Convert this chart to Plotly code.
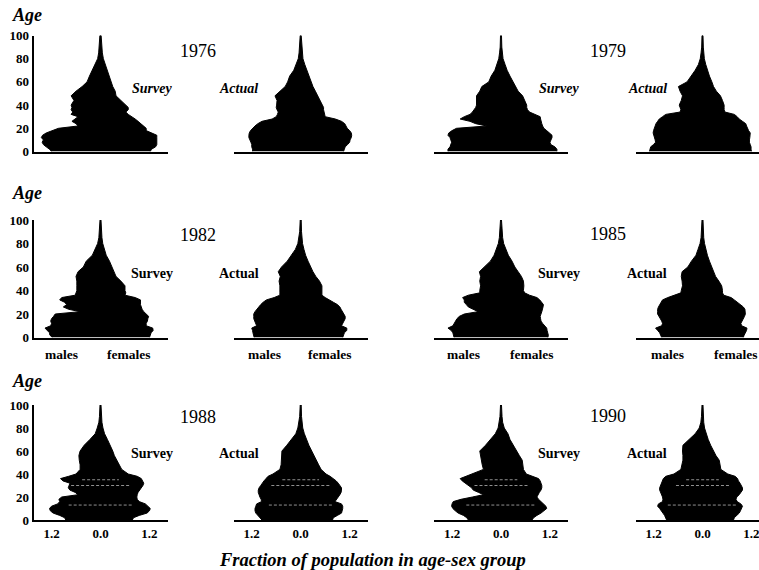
import plotly.graph_objects as go

AGES = [0,2,4,6,8,10,12,14,16,18,20,22,24,26,28,30,32,34,36,38,40,44,48,52,56,60,65,70,75,80,85,90,100]

YEARS = [1976, 1979, 1982, 1985, 1988, 1990]

S76_M = [1.20,1.25,1.33,1.40,1.43,1.40,1.45,1.42,1.33,1.20,1.03,.55,.60,.70,.62,.55,.72,.68,.72,.70,.72,.65,.72,.60,.45,.33,.27,.20,.13,.07,.045,.03,.015]
S76_F = [1.22,1.25,1.35,1.38,1.38,1.38,1.38,1.38,1.25,1.12,1.12,1.05,.98,.92,.85,.78,.68,.62,.68,.68,.62,.50,.38,.36,.30,.27,.22,.17,.12,.07,.045,.03,.015]
A76_M = [1.18,1.18,1.20,1.20,1.22,1.25,1.27,1.27,1.26,1.23,1.18,1.12,1.05,.95,.70,.60,.57,.55,.58,.60,.59,.58,.63,.50,.38,.32,.27,.17,.11,.06,.04,.025,.012]
A76_F = [1.05,1.07,1.09,1.15,1.20,1.21,1.24,1.25,1.24,1.20,1.14,1.11,1.08,1.00,.85,.60,.58,.57,.56,.56,.55,.47,.42,.36,.30,.26,.21,.15,.10,.055,.035,.025,.012]

S79_M = [1.30,1.30,1.25,1.22,1.21,1.23,1.25,1.30,1.28,1.20,1.09,.35,.62,.76,1.00,.90,.76,.70,.65,.62,.60,.60,.60,.52,.47,.30,.24,.15,.10,.055,.035,.02,.012]
S79_F = [1.37,1.37,1.32,1.22,1.20,1.22,1.25,1.25,1.20,1.12,1.05,1.02,1.00,.98,.97,.96,.85,.70,.65,.63,.63,.58,.53,.42,.36,.30,.22,.15,.10,.05,.03,.02,.012]
A79_M = [1.30,1.28,1.27,1.20,1.15,1.16,1.18,1.20,1.21,1.20,1.18,1.16,1.14,1.10,1.06,.98,.90,.55,.53,.55,.57,.52,.49,.55,.59,.38,.27,.18,.10,.055,.035,.02,.012]
A79_F = [1.20,1.19,1.19,1.17,1.15,1.15,1.16,1.17,1.17,1.13,1.10,1.08,1.06,.98,.90,.85,.78,.55,.53,.53,.53,.49,.44,.34,.27,.23,.17,.12,.08,.045,.03,.02,.012]

S82_M = [1.18,1.24,1.25,1.30,1.36,1.22,1.20,1.22,1.20,1.15,1.11,.50,.78,.91,.83,.88,1.00,.95,.62,.60,.58,.58,.58,.60,.55,.42,.35,.20,.13,.07,.04,.025,.012]
S82_F = [1.20,1.22,1.24,1.29,1.28,1.12,1.12,1.15,1.16,1.18,1.12,1.06,1.02,1.00,.98,.98,.98,.85,.60,.62,.60,.60,.50,.38,.33,.28,.22,.14,.09,.055,.035,.022,.012]
A82_M = [1.14,1.16,1.17,1.18,1.20,1.08,1.10,1.13,1.15,1.15,1.15,1.12,1.08,1.04,.98,.92,.84,.65,.51,.51,.51,.51,.53,.50,.55,.47,.33,.22,.13,.07,.04,.025,.012]
A82_F = [1.03,1.05,1.07,1.13,1.13,1.00,1.03,1.06,1.09,1.09,1.07,1.03,.99,.96,.90,.80,.72,.60,.52,.52,.52,.52,.46,.37,.30,.24,.18,.12,.08,.045,.03,.02,.012]

S85_M = [1.15,1.17,1.18,1.22,1.30,1.18,1.15,1.13,1.08,1.02,.90,.56,.68,.80,.85,.90,.90,.94,.80,.52,.52,.50,.52,.50,.53,.40,.26,.17,.12,.065,.04,.025,.012]
S85_F = [1.15,1.16,1.15,1.13,1.12,1.08,1.02,.98,.97,.96,.98,1.00,1.02,1.03,1.04,1.00,.95,.88,.70,.58,.55,.56,.55,.50,.42,.34,.27,.18,.12,.065,.04,.025,.012]
A85_M = [1.00,1.02,1.05,1.10,1.15,1.00,.98,1.00,1.04,1.08,1.10,1.10,1.10,1.08,1.05,1.00,.98,.85,.70,.53,.52,.49,.50,.52,.50,.36,.27,.16,.11,.06,.035,.025,.012]
A85_F = [1.00,1.02,1.04,1.08,1.09,.96,.94,.96,1.00,1.03,1.05,1.05,1.04,1.00,.92,.85,.78,.70,.52,.49,.49,.47,.40,.32,.27,.23,.17,.12,.08,.05,.03,.02,.012]

S88_M = [.85,.88,1.00,1.16,1.23,1.25,1.20,1.05,1.00,1.02,.95,.55,.62,.75,.79,.77,.75,.92,.98,.78,.60,.50,.50,.52,.53,.50,.40,.26,.13,.08,.04,.025,.012]
S88_F = [.78,.81,.95,1.14,1.20,1.22,1.16,1.10,.95,.90,.89,.90,.92,.94,1.00,1.04,1.06,1.04,1.00,.90,.68,.52,.46,.40,.34,.30,.24,.17,.10,.06,.035,.022,.012]
A88_M = [.95,1.00,1.05,1.10,1.12,1.12,1.10,1.08,.96,.97,1.00,1.03,1.04,1.04,1.02,.98,.95,.90,.85,.80,.68,.51,.48,.47,.47,.46,.34,.23,.12,.07,.04,.025,.012]
A88_F = [.78,.80,.90,1.00,1.02,1.03,1.03,1.00,.84,.87,.92,.96,.99,1.00,1.00,.97,.92,.87,.80,.72,.62,.50,.44,.38,.32,.27,.20,.14,.09,.05,.03,.02,.012]

S90_M = [.80,.84,.92,1.05,1.12,1.18,1.21,1.20,1.17,.98,.70,.43,.55,.68,.72,.80,.88,.95,1.00,.85,.70,.43,.46,.48,.50,.52,.38,.26,.14,.07,.04,.025,.012]
S90_F = [.76,.80,.88,.98,1.06,1.12,1.10,1.05,.98,.92,.88,.90,.94,.98,1.00,1.00,.98,.96,.92,.80,.62,.55,.53,.52,.45,.37,.30,.22,.17,.08,.04,.025,.012]
A90_M = [.88,.90,.93,.97,1.00,1.05,1.10,1.08,.98,.97,.98,1.00,1.03,1.05,1.05,1.03,1.00,.98,.96,.90,.70,.53,.50,.48,.48,.49,.48,.32,.18,.08,.04,.025,.012]
A90_F = [.76,.78,.84,.90,.93,.96,.98,.94,.85,.82,.84,.90,.95,.98,.98,.96,.92,.88,.86,.80,.62,.45,.43,.41,.33,.27,.20,.14,.09,.05,.03,.02,.012]

Y_TICKS = [0, 20, 40, 60, 80, 100]
X_TICKS = [-1.2, 0, 1.2]
X_TICK_LABELS = ["1.2", "0.0", "1.2"]

PANELS = [
    [(S76_M, S76_F), (A76_M, A76_F), (S79_M, S79_F), (A79_M, A79_F)],
    [(S82_M, S82_F), (A82_M, A82_F), (S85_M, S85_F), (A85_M, A85_F)],
    [(S88_M, S88_F), (A88_M, A88_F), (S90_M, S90_F), (A90_M, A90_F)],
]

# Ages of the pale scan streaks across the two bottom-row pairs: (age, half-length)
STREAKS_88 = [(13, .78), (30, .72), (35, .45)]
STREAKS_90 = [(13, .85), (30, .65), (35, .4)]

W, H = 759, 570
SERIF = "Liberation Serif"
CENTRES = [100.5, 300.7, 501, 702.5]
ROWS = [(35.5, 151.5), (220, 337.5), (405, 520)]   # top / zero-age pixel rows
PX_PER_UNIT = 40.8
REACH = 67  # axis half-length, pixels

fig = go.Figure()
layout = {}
n = 0
for r, row in enumerate(PANELS):
    top, base = ROWS[r]
    for c, (males, females) in enumerate(row):
        assert len(males) == len(AGES) and len(females) == len(AGES)
        n += 1
        xa, ya = f"x{n}", f"y{n}"
        fig.add_trace(go.Scatter(
            x=[-v for v in males] + females[::-1], y=AGES + AGES[::-1], xaxis=xa, yaxis=ya,
            mode="lines", fill="toself", fillcolor="black",
            line=dict(color="black", width=1), showlegend=False, hoverinfo="skip"))
        if r == 2:
            for age, half in (STREAKS_88 if c < 2 else STREAKS_90):
                fig.add_trace(go.Scatter(
                    x=[-half, half], y=[age, age], xaxis=xa, yaxis=ya, mode="lines",
                    line=dict(color="#cfcfcf", width=0.7, dash="3px,2px"),
                    showlegend=False, hoverinfo="skip"))
        left = CENTRES[c] - REACH
        right = min(CENTRES[c] + REACH, W)
        layout[f"xaxis{n}"] = dict(
            domain=[left / W, right / W], anchor=ya, automargin=False,
            range=[(left - CENTRES[c]) / PX_PER_UNIT, (right - CENTRES[c]) / PX_PER_UNIT],
            showgrid=False, zeroline=False, showline=True, linecolor="black", linewidth=2,
            ticks="", tickmode="array", tickvals=X_TICKS, ticklabeloverflow="allow",
            ticktext=X_TICK_LABELS if r == 2 else ["", "", ""],
            tickfont=dict(family=SERIF, size=13, color="black", weight="bold"))
        layout[f"yaxis{n}"] = dict(
            domain=[1 - base / H, 1 - top / H], anchor=xa, range=[0, 100], automargin=False,
            showgrid=False, zeroline=False, showline=(c == 0), linecolor="black", linewidth=2,
            ticks="", tickmode="array", tickvals=Y_TICKS, showticklabels=(c == 0),
            tickfont=dict(family=SERIF, size=13, color="black", weight="bold"))


def note(text, x, y, size, anchor="center"):
    fig.add_annotation(text=text, x=x / W, y=1 - y / H, xref="paper", yref="paper",
                       xanchor=anchor, yanchor="middle", showarrow=False,
                       font=dict(family=SERIF, size=size, color="black"))


for y in (15, 193, 381):
    note("<b><i>Age</i></b>", 27, y, 18)
for text, x, y in ((str(YEARS[0]), 198, 51), (str(YEARS[1]), 608, 51), (str(YEARS[2]), 198, 235),
                   (str(YEARS[3]), 608, 234), (str(YEARS[4]), 198, 417), (str(YEARS[5]), 608, 416)):
    note(text, x, y, 18)
for x, label in ((152, "Survey"), (238.5, "Actual"), (559, "Survey"), (647, "Actual")):
    note(f"<b><i>{label}</i></b>", x, 88, 14)
    note(f"<b>{label}</b>", x, 274, 14)
    note(f"<b>{label}</b>", x, 453, 14)
for x, label in ((61, "males"), (128.5, "females"), (264, "males"), (329, "females"),
                 (464, "males"), (531, "females"), (667, "males"), (735, "females")):
    note(f"<b>{label}</b>", x, 354, 13.5)
note("<b><i>Fraction of population in age-sex group</i></b>", 372.5, 560, 18.5)

fig.update_layout(width=W, height=H, autosize=False, margin=dict(l=0, r=0, t=0, b=0),
                  paper_bgcolor="white", plot_bgcolor="rgba(0,0,0,0)", showlegend=False, **layout)
fig.write_html("out.html", config=dict(displayModeBar=False),
               post_script="document.body.style.margin='0';")
